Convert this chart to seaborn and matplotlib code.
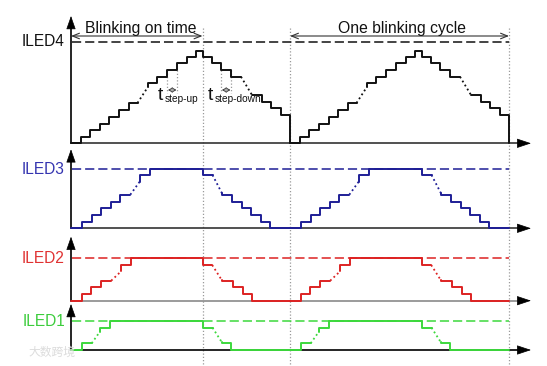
import matplotlib.pyplot as plt
import matplotlib.transforms as mtransforms
import seaborn as sns

# time base: one blinking cycle, levels per channel
period = 219
on_time = 131.5
cycle_starts = [0, period]

channels = ['ILED4', 'ILED3', 'ILED2', 'ILED1']
line_colors = ['#111111', '#1e1e96', '#dd2222', '#3cd83c']
label_colors = ['#111111', '#3434b0', '#e03232', '#3ccc3c']
axis_colors = ['#333333', '#333333', '#8a8a8a', '#000000']
full_levels = [101.3, 59.3, 42.4, 29.0]
axis_heights = [127.3, 79.0, 64.0, 46.0]
baselines_px = [143.3, 228.3, 300.7, 350.0]

# ILED4
iled4_rise_t = [0, 10, 19, 29, 38.5, 48, 57.5, 66.5]
iled4_rise_v = [0, 6.1, 13.6, 19.6, 26.5, 33.6, 40.3, 40.3]
iled4_top_t = [77, 77, 86.3, 96.3, 106.2, 115.8, 124.8, 131.5, 140.7, 150.2, 160.2, 170]
iled4_top_v = [56.5, 60.6, 66.6, 73.5, 80, 86.3, 92, 86.3, 80, 73.5, 66.6, 66.6]
iled4_fall_t = [181, 191, 200, 209.5, 219, 219]
iled4_fall_v = [48.3, 41.6, 35, 28.3, 28.3, 0]

# ILED3
iled3_rise_t = [0, 11, 20.7, 30, 40, 49.3, 59.3]
iled3_rise_v = [0, 6.6, 13.3, 20, 26.6, 33.6, 33.6]
iled3_top_t = [68.7, 68.7, 79, 131.5, 141.5]
iled3_top_v = [46.6, 53.3, 59.3, 53.3, 53.3]
iled3_fall_t = [151, 151, 160.7, 170.7, 180.3, 190.3, 199, 219]
iled3_fall_v = [35, 33.3, 26.6, 20, 13.3, 6.6, 0, 0]

# ILED2
iled2_rise_t = [0, 11, 20.3, 29.8, 40.2]
iled2_rise_v = [0, 6.7, 13.4, 20, 20]
iled2_top_t = [50.2, 50.2, 60.3, 131.5, 141.2]
iled2_top_v = [29.5, 35.7, 42.4, 35.7, 35.7]
iled2_fall_t = [150.7, 150.7, 161.5, 171.5, 181, 219]
iled2_fall_v = [20.7, 20, 13.4, 6.7, 0, 0]

# ILED1
iled1_rise_t = [0, 10.7, 20.7]
iled1_rise_v = [0, 6.7, 6.7]
iled1_top_t = [29, 29, 38.7, 131.5, 141.5]
iled1_top_v = [18.5, 22.3, 29, 22.3, 22.3]
iled1_fall_t = [150.7, 150.7, 160.3, 219]
iled1_fall_v = [8, 6.7, 0, 0]

waves = [
    (iled4_rise_t, iled4_rise_v, iled4_top_t, iled4_top_v, iled4_fall_t, iled4_fall_v),
    (iled3_rise_t, iled3_rise_v, iled3_top_t, iled3_top_v, iled3_fall_t, iled3_fall_v),
    (iled2_rise_t, iled2_rise_v, iled2_top_t, iled2_top_v, iled2_fall_t, iled2_fall_v),
    (iled1_rise_t, iled1_rise_v, iled1_top_t, iled1_top_v, iled1_fall_t, iled1_fall_v),
]

sns.set_style('white')
plt.rcParams['font.family'] = ['Liberation Sans', 'DejaVu Sans']

W, H = 547, 366
fig = plt.figure(figsize=(W / 100, H / 100), dpi=100)
x0_px = 71
x_span = 460
dotted = (0, (1, 1.6))

axes = []
for i, name in enumerate(channels):
    base = baselines_px[i]
    top = axis_heights[i]
    ax = fig.add_axes([x0_px / W, (H - base) / H, x_span / W, top / H])
    ax.set_xlim(0, x_span)
    ax.set_ylim(0, top)
    ax.axis('off')
    axes.append(ax)

    # axes with arrow heads
    ax.plot([0, x_span - 8], [0, 0], color=axis_colors[i], lw=1.2, clip_on=False, zorder=2)
    ax.annotate('', xy=(x_span, 0), xytext=(x_span - 12, 0),
                arrowprops=dict(arrowstyle='-|>,head_length=0.9,head_width=0.3',
                                color='black', lw=0.5, shrinkA=0, shrinkB=0,
                                mutation_scale=10))
    ax.plot([0, 0], [0, top - 8], color='black', lw=1.2, clip_on=False, zorder=2)
    ax.annotate('', xy=(0, top), xytext=(0, top - 11),
                arrowprops=dict(arrowstyle='-|>,head_length=0.85,head_width=0.3',
                                color='black', lw=0.5, shrinkA=0, shrinkB=0,
                                mutation_scale=10))

    # full scale dashed level
    ax.plot([1.5, 2 * period], [full_levels[i]] * 2, color=line_colors[i], lw=1.1,
            dashes=(6, 2.6), clip_on=False, zorder=3)
    ax.text(-6, full_levels[i], name, ha='right', va='center', fontsize=11.2,
            color=label_colors[i])

    rise_t, rise_v, top_t, top_v, fall_t, fall_v = waves[i]
    for c0 in cycle_starts:
        for ts, vs in ((rise_t, rise_v), (top_t, top_v), (fall_t, fall_v)):
            sns.lineplot(x=[c0 + t for t in ts], y=vs, ax=ax, color=line_colors[i],
                         lw=1.4, drawstyle='steps-post', sort=False, estimator=None,
                         clip_on=False, zorder=5)
        ax.plot([c0 + rise_t[-1], c0 + top_t[0]], [rise_v[-1], top_v[0]],
                color=line_colors[i], lw=1.3, ls=dotted, clip_on=False, zorder=5)
        ax.plot([c0 + top_t[-1], c0 + fall_t[0]], [top_v[-1], fall_v[0]],
                color=line_colors[i], lw=1.3, ls=dotted, clip_on=False, zorder=5)
    ax.set_xlim(0, x_span)
    ax.set_ylim(0, top)

ax4 = axes[0]

# long gray dotted guides through all panels
trans = mtransforms.blended_transform_factory(ax4.transData, fig.transFigure)
for t in [on_time, period, 2 * period]:
    ax4.plot([t, t], [1 - 28 / H, 0], transform=trans, color='#9a9a9a', lw=0.9,
             ls=dotted, clip_on=False, zorder=1)

# span annotations
span_level = 107.3
for (a, b, label, xc) in [(0, on_time, 'Blinking on time', 70),
                          (period, 2 * period, 'One blinking cycle', 331)]:
    ax4.annotate('', xy=(a, span_level), xytext=(b, span_level),
                 arrowprops=dict(arrowstyle='<->,head_length=0.5,head_width=0.2',
                                 color='#333333', lw=0.8, shrinkA=0, shrinkB=0,
                                 mutation_scale=10))
    ax4.text(xc, 110.6, label, ha='center', va='baseline', fontsize=11.3, color='#111111')

# step timing markers
for ta, tb, t_x, sub in [(96.3, 106.2, 87, 'step-up'), (150.2, 160.2, 137, 'step-down')]:
    for t in (ta, tb):
        ax4.plot([t, t], [73.5, 50], color='#9a9a9a', lw=0.9, ls=dotted, zorder=2)
    ax4.annotate('', xy=(ta + 0.8, 53.3), xytext=(tb - 0.8, 53.3),
                 arrowprops=dict(arrowstyle='<->,head_length=0.25,head_width=0.15',
                                 color='#333333', lw=0.6, shrinkA=0, shrinkB=0,
                                 mutation_scale=10))
    ax4.text(t_x, 43.3, 't', ha='left', va='baseline', fontsize=14, color='#111111')
    ax4.text(t_x + 7, 41.0, sub, ha='left', va='baseline', fontsize=7.3, color='#111111')

# faint watermark
fig.text(28 / W, 1 - 352 / H, '大数跨境', ha='left', va='center', fontsize=8.5,
         color='#dcdcdc', family=['Noto Sans CJK SC', 'DejaVu Sans'])

fig.savefig('out.png', dpi=100)
